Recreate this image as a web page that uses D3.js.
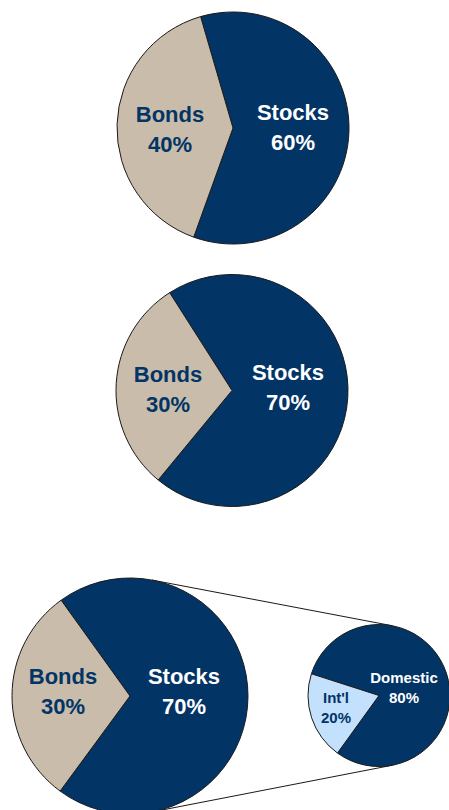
<!DOCTYPE html>
<html>
<head>
<meta charset="utf-8">
<script src="https://cdn.jsdelivr.net/npm/d3@7"></script>
<style>
  body { margin: 0; background: #fff; }
  svg { display: block; }
  text { font-family: "Liberation Sans", Arial, sans-serif; font-weight: bold; }
</style>
</head>
<body>
<svg id="chart" width="449" height="810"></svg>
<script>
// data
var assetLabels = ['Stocks', 'Bonds'];
var mixA = [60, 40];
var mixB = [70, 30];
var mixC = [70, 30];
var stockLabels = ['Domestic', "Int'l"];
var stockSplit = [80, 20];

var navy = '#023466';
var tan = '#c9bcaa';
var lightBlue = '#c3e1fc';

var svg = d3.select('#chart');
var deg = Math.PI / 180;

// one pie: cx, cy, r, rotation of first slice, fills, text colours, label offsets (first baseline), font size, line step
var draw_pie = function(labels, values, opt) {
    var data = labels.map(function(l, i) { return { label: l, v: values[i] }; });
    var pie = d3.pie().sort(null).value(function(d) { return d.v; })
        .startAngle(opt.start * deg).endAngle(opt.start * deg + 2 * Math.PI);
    var arc = d3.arc().innerRadius(0).outerRadius(opt.r);
    var g = svg.append('g').attr('transform', 'translate(' + opt.cx + ',' + opt.cy + ')');
    var arcs = pie(data);
    g.selectAll('path').data(arcs).enter().append('path')
        .attr('d', arc)
        .attr('fill', function(d) { return opt.fills[d.index]; })
        .attr('stroke', '#1a1a1a')
        .attr('stroke-width', 1);
    arcs.forEach(function(d) {
        var p = opt.labelAt[d.index];
        var t = g.append('text')
            .attr('text-anchor', 'middle')
            .attr('fill', opt.textFills[d.index])
            .style('font-size', opt.fs + 'px');
        t.append('tspan').attr('x', p[0]).attr('y', p[1]).text(d.data.label);
        t.append('tspan').attr('x', p[0]).attr('y', p[1] + opt.step).text(d.data.v + '%');
    });
};

// connector lines: outer tangents between the big pie and the small one
var big = { cx: 130, cy: 696, r: 118 };
var small = { cx: 379, cy: 695.5, r: 71 };
var dist = Math.hypot(small.cx - big.cx, small.cy - big.cy);
var base = Math.atan2(small.cy - big.cy, small.cx - big.cx);
var tilt = Math.asin((big.r - small.r) / dist);
[-1, 1].forEach(function(s) {
    var a = base + s * (Math.PI / 2 - tilt);
    svg.append('line')
        .attr('x1', big.cx + big.r * Math.cos(a)).attr('y1', big.cy + big.r * Math.sin(a))
        .attr('x2', small.cx + small.r * Math.cos(a)).attr('y2', small.cy + small.r * Math.sin(a))
        .attr('stroke', '#1a1a1a')
        .attr('stroke-width', 1);
});

draw_pie(assetLabels, mixA, {
    cx: 233, cy: 128, r: 116, start: -16.2,
    fills: [navy, tan], textFills: ['#fff', navy],
    labelAt: [[60, -8.5], [-63, -6]], fs: 22, step: 30
});
draw_pie(assetLabels, mixB, {
    cx: 232, cy: 390.5, r: 116, start: -32.5,
    fills: [navy, tan], textFills: ['#fff', navy],
    labelAt: [[56, -10.5], [-64, -8.8]], fs: 22, step: 30
});
draw_pie(assetLabels, mixC, {
    cx: big.cx, cy: big.cy, r: big.r, start: -35.7,
    fills: [navy, tan], textFills: ['#fff', navy],
    labelAt: [[54, -12], [-67, -11.7]], fs: 22, step: 30
});
draw_pie(stockLabels, stockSplit, {
    cx: small.cx, cy: small.cy, r: small.r, start: -72.2,
    fills: [navy, lightBlue], textFills: ['#fff', navy],
    labelAt: [[25, -12.8], [-43, 7.2]], fs: 15, step: 20
});
</script>
</body>
</html>
